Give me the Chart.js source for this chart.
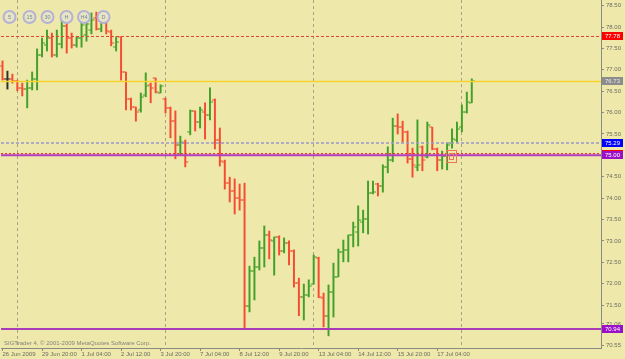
<!DOCTYPE html>
<html><head><meta charset="utf-8">
<script src="https://cdn.jsdelivr.net/npm/chart.js@4.4.1/dist/chart.umd.min.js"></script>
<style>html,body{margin:0;padding:0;background:#EEE8AA;overflow:hidden}#wrap{width:625px;height:359px}</style>
</head><body><div id="wrap"><canvas id="c" width="625" height="359"></canvas></div>
<script>
// ---- data (H4 OHLC bars) ----
const opens = [77.09,76.79,76.79,76.74,76.58,76.55,76.58,76.79,77.35,77.58,
 77.74,77.35,77.60,78.03,77.74,77.58,77.74,77.81,77.93,78.21,
 77.95,78.10,77.89,77.53,77.77,76.95,76.32,76.13,76.06,76.41,
 76.65,76.81,76.46,76.32,76.11,75.80,75.24,75.29,75.55,76.04,
 75.78,76.01,75.94,76.30,75.36,74.85,74.35,74.17,74.00,73.96,
 71.48,72.30,72.39,72.83,73.14,73.00,73.09,72.76,72.95,72.76,
 72.02,71.69,71.74,71.99,72.60,71.67,71.25,71.81,72.16,72.74,
 72.79,73.14,73.21,73.44,73.51,74.12,74.33,74.28,74.73,74.89,
 75.69,75.66,75.55,74.92,74.73,75.20,74.96,75.66,75.15,74.89,
 74.99,75.29,75.36,75.66,76.01,76.23];
const highs = [77.21,76.97,76.90,76.76,76.69,76.76,76.95,77.49,77.74,77.93,
 77.86,77.93,78.17,78.26,77.86,77.77,78.21,78.17,78.33,78.35,
 78.24,78.12,77.93,77.77,77.77,76.95,76.34,76.13,76.46,76.93,
 76.69,76.81,76.65,76.34,76.13,76.04,75.45,75.36,76.06,76.04,
 76.13,76.23,76.58,76.32,75.64,74.89,74.49,74.45,74.33,74.35,
 72.41,72.62,73.00,73.35,73.23,73.09,73.12,73.07,73.00,72.79,
 72.13,71.99,72.09,72.67,72.62,71.78,71.97,72.48,72.81,73.02,
 73.14,73.44,73.82,73.72,74.40,74.40,74.35,74.78,75.20,75.87,
 75.97,75.80,75.57,75.17,75.83,75.22,75.78,75.66,75.17,75.10,
 75.29,75.62,75.78,76.18,76.48,76.79];
const lows = [76.76,76.55,76.69,76.51,76.39,76.11,76.53,76.53,77.30,77.44,
 77.30,77.30,77.51,77.39,77.51,77.53,77.53,77.67,77.84,77.93,
 77.89,77.84,77.56,77.44,76.76,76.06,76.06,75.80,76.01,76.37,
 76.23,76.46,76.46,75.99,75.41,74.92,75.01,74.73,75.48,75.57,
 75.64,75.38,75.83,75.15,74.75,74.21,73.91,73.63,73.72,70.94,
 71.34,71.62,72.32,72.39,72.58,72.20,72.67,72.72,72.44,71.92,
 71.25,71.15,71.69,71.99,71.67,70.99,70.78,71.22,72.16,72.51,
 72.51,72.86,72.88,73.19,73.16,74.10,74.05,74.14,74.59,74.85,
 75.50,75.31,74.82,74.49,74.64,74.64,74.94,75.13,74.64,74.68,
 74.66,75.17,75.31,75.55,75.99,76.23];
const closes = [76.79,76.79,76.74,76.58,76.55,76.58,76.79,77.35,77.63,77.74,
 77.35,77.60,78.03,77.74,77.58,77.74,78.05,78.07,78.17,77.95,
 78.12,77.91,77.63,77.65,76.95,76.32,76.13,76.01,76.37,76.62,
 76.58,76.48,76.62,76.11,75.80,75.24,75.31,74.85,76.04,75.78,
 76.06,75.94,76.25,75.36,74.87,74.35,74.17,74.00,73.96,71.48,
 72.30,72.39,72.83,73.14,73.02,73.09,72.76,72.95,72.76,72.02,
 71.69,71.74,71.95,72.62,71.69,71.25,71.81,72.16,72.74,72.79,
 73.14,73.33,73.49,73.51,74.12,74.14,74.28,74.73,74.89,75.69,
 75.66,75.55,74.92,74.78,74.78,74.89,75.71,75.15,74.89,74.99,
 75.24,75.38,75.62,76.01,76.25,76.74];
const dateLabels = ['26 Jun 2009','29 Jun 20:00','1 Jul 04:00','2 Jul 12:00','3 Jul 20:00','7 Jul 04:00','8 Jul 12:00','9 Jul 20:00','13 Jul 04:00','14 Jul 12:00','15 Jul 20:00','17 Jul 04:00'];
const dateLabelBars = [0,8,16,24,32,40,48,56,64,72,80,88];
const weekStartBars = [3,33,63,93];
const yTickValues = [78.5,78,77.5,77,76.5,76,75.5,75,74.5,74,73.5,73,72.5,72,71.5,71.06,70.55];
const levelValues = [77.78,76.73,75.29,75.04,75.00,70.94];
const periodButtons = ['5','15','30','H','H4','D'];
const copyrightText = 'SIGTrader 4, \u00A9 2001-2009 MetaQuotes Software Corp.';
const markerBar = 91, markerPrice = 74.97;

// ---- styles ----
const BG = '#EEE8AA';
const BULL = '#42A02A', BEAR = '#F44C32', DOJI = '#2E2E2A';
const AXIS = '#8a8a80', TXT = '#6c6c64';
const FONT = 'Liberation Sans';
const levelStyles = [
  {color:'#DC4430', dash:[3,2], width:1, box:'#FF0000', text:'#ffffff'},
  {color:'#F8D22C', dash:[], width:1.5, box:'#8C8C8C', text:'#e8e8e8'},
  {color:'#9A96C8', dash:[3,2], width:1.5, box:'#0000FF', text:'#ffffff'},
  {color:'#F03A30', dash:[2,2], width:1.2, box:'#FF0000', text:'#ffffff'},
  {color:'#B23EC4', dash:[], width:2, box:'#9A10C8', text:'#ffffff'},
  {color:'#A83CB8', dash:[], width:2, box:'#9A10C8', text:'#ffffff'}
];
const btnX = [9.5,29.5,47.5,66.5,84,103.5];

const colorOf = i => closes[i] > opens[i] ? BULL : (closes[i] < opens[i] ? BEAR : DOJI);
const barData = opens.map((o,i) => ({x:i, y:[lows[i], highs[i]]}));

const bgPlugin = {id:'bg', beforeDraw(ch){const c=ch.ctx;c.save();c.fillStyle=BG;c.fillRect(0,0,ch.width,ch.height);c.restore();}};

const ohlcTicks = {id:'ohlcTicks', afterDatasetsDraw(ch){
  const c=ch.ctx, xs=ch.scales.x, ys=ch.scales.y;
  c.save();
  for(let i=0;i<opens.length;i++){
    const x=xs.getPixelForValue(i);
    c.fillStyle=colorOf(i);
    c.fillRect(x-3, Math.round(ys.getPixelForValue(opens[i]))-0.5, 2.5, 1);
    c.fillRect(x+0.5, Math.round(ys.getPixelForValue(closes[i]))-0.5, 2.5, 1);
  }
  c.restore();
}};

const levelsPlugin = {id:'levels', afterDatasetsDraw(ch){
  const c=ch.ctx, ys=ch.scales.y, xs=ch.scales.x, a=ch.chartArea;
  c.save();
  levelValues.forEach((v,k)=>{
    const s=levelStyles[k], y=ys.getPixelForValue(v);
    c.strokeStyle=s.color; c.lineWidth=s.width; c.setLineDash(s.dash);
    c.beginPath(); c.moveTo(a.left,y); c.lineTo(a.right,y); c.stroke();
  });
  c.setLineDash([]);
  const mx=xs.getPixelForValue(markerBar), my=ys.getPixelForValue(markerPrice);
  c.strokeStyle='#EE7658'; c.lineWidth=1;
  c.strokeRect(Math.round(mx)-5.5, Math.round(my)-6.5, 10, 12);
  c.strokeRect(Math.round(mx)-2.5, Math.round(my)-3.5, 4, 6);
  c.restore();
}};

const decorPlugin = {id:'decor', afterDraw(ch){
  const c=ch.ctx, ys=ch.scales.y, a=ch.chartArea;
  c.save();
  c.font='6px "'+FONT+'"'; c.textBaseline='middle'; c.textAlign='left';
  levelValues.forEach((v,k)=>{
    const s=levelStyles[k], y=ys.getPixelForValue(v);
    c.fillStyle=s.box; c.fillRect(a.right+1, Math.round(y)-4, 21, 8);
    c.fillStyle=s.text; c.fillText(v.toFixed(2), a.right+4, Math.round(y)+0.5);
  });
  c.fillStyle='#84847a'; c.font='6px "'+FONT+'"'; c.textAlign='left'; c.textBaseline='middle';
  c.fillText(copyrightText, a.left+3, a.bottom-5);
  periodButtons.forEach((t,k)=>{
    c.beginPath(); c.arc(btnX[k], 17, 6, 0, Math.PI*2);
    c.fillStyle='#E8E4C4'; c.fill();
    c.strokeStyle='#B4B2D6'; c.lineWidth=2; c.stroke();
    c.fillStyle='#6E8E98'; c.font='5.5px "'+FONT+'"'; c.textAlign='center';
    c.fillText(t, btnX[k], 17.5);
  });
  c.restore();
}};

new Chart(document.getElementById('c'), {
  type:'bar',
  data:{datasets:[{data:barData, backgroundColor:ctx=>colorOf(ctx.dataIndex), barThickness:1.3, borderWidth:0, borderSkipped:false, xAxisID:'x', yAxisID:'y'}]},
  options:{
    responsive:false, animation:false, events:[],
    layout:{padding:{left:1,top:0,right:0,bottom:0}},
    plugins:{legend:{display:false}, tooltip:{enabled:false}},
    scales:{
      x:{type:'linear', position:'bottom', min:-0.304, max:121.16, offset:false,
        afterBuildTicks:s=>{s.ticks=dateLabelBars.map(v=>({value:v}));},
        afterFit:s=>{s.height=11; s.paddingLeft=0; s.paddingRight=0;},
        ticks:{autoSkip:false, maxRotation:0, minRotation:0, align:'start', padding:0, color:TXT, font:{size:6, family:FONT},
          callback:v=>dateLabels[dateLabelBars.indexOf(v)]},
        grid:{display:true, offset:false, drawOnChartArea:false, drawTicks:true, tickLength:3, color:AXIS, lineWidth:1},
        border:{display:true, color:AXIS, width:1}},
      xg:{type:'linear', position:'top', min:-0.304, max:121.16, offset:false,
        afterBuildTicks:s=>{s.ticks=weekStartBars.map(v=>({value:v}));},
        afterFit:s=>{s.height=0; s.paddingLeft=0; s.paddingRight=0;},
        ticks:{display:false},
        grid:{display:true, offset:false, drawTicks:false, color:'#A8A088', lineWidth:1},
        border:{display:false, dash:[3,3]}},
      y:{type:'linear', position:'right', min:70.496, max:78.633,
        afterBuildTicks:s=>{s.ticks=yTickValues.map(v=>({value:v}));},
        afterFit:s=>{s.width=24; s.paddingTop=0; s.paddingBottom=0;},
        ticks:{padding:2, color:TXT, font:{size:6, family:FONT}, callback:v=>v.toFixed(2)},
        grid:{drawOnChartArea:false, drawTicks:true, tickLength:3, color:AXIS},
        border:{display:true, color:AXIS, width:1}}
    }
  },
  plugins:[bgPlugin, ohlcTicks, levelsPlugin, decorPlugin]
});
</script></body></html>
